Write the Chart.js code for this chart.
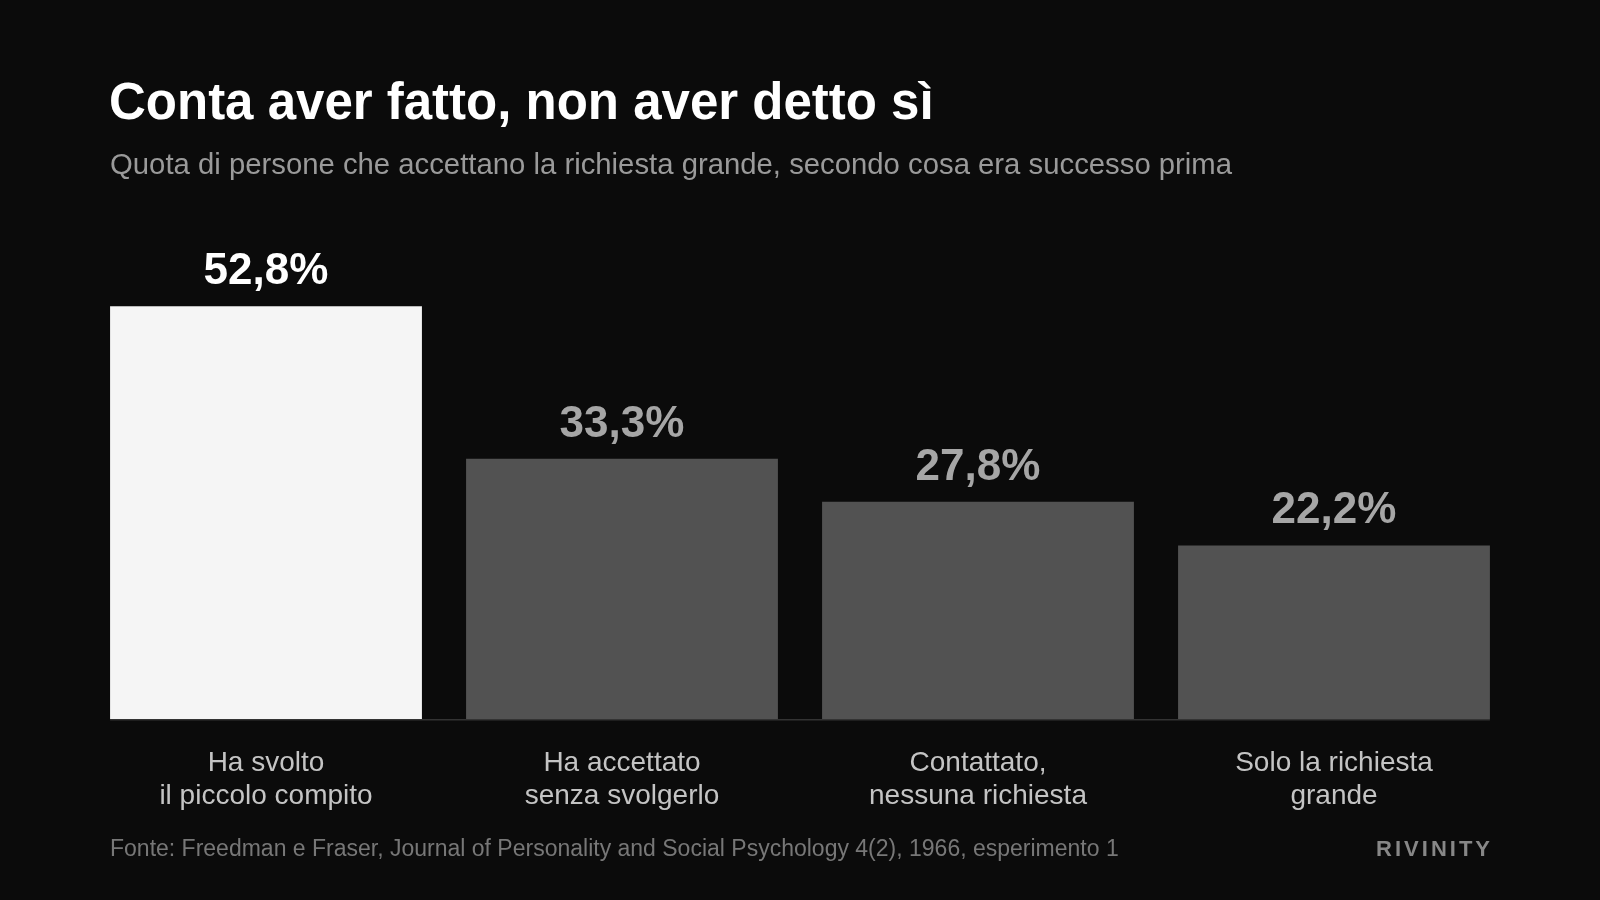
<!DOCTYPE html>
<html lang="it">
<head>
<meta charset="utf-8">
<title>Conta aver fatto, non aver detto sì</title>
<script src="https://cdn.jsdelivr.net/npm/chart.js@4.4.1/dist/chart.umd.min.js"></script>
<style>
  html, body { margin: 0; padding: 0; background: #0b0b0b; }
  body { width: 1600px; height: 900px; position: relative; overflow: hidden;
         font-family: "Liberation Sans", Arial, sans-serif; }
  .chart-wrap { position: absolute; left: 0; top: 0; width: 1600px; height: 900px; }
  .title { position: absolute; left: 109px; top: 76px; margin: 0;
           font-size: 51px; font-weight: 700; color: #ffffff; line-height: 1; white-space: nowrap; }
  .subtitle { position: absolute; left: 110px; top: 149px; margin: 0;
              font-size: 29.3px; color: #9a9a9a; line-height: 1; white-space: nowrap; }
  .source { position: absolute; left: 110px; top: 837px;
            font-size: 23px; color: #777777; line-height: 1; white-space: nowrap; }
  .brand { position: absolute; right: 107px; top: 838px;
           font-size: 22px; font-weight: 700; letter-spacing: 3px; color: #878787; line-height: 1; }
</style>
</head>
<body>
  <div class="chart-wrap"><canvas id="shareChart"></canvas></div>
  <h1 class="title">Conta aver fatto, non aver detto sì</h1>
  <p class="subtitle">Quota di persone che accettano la richiesta grande, secondo cosa era successo prima</p>
  <div class="source">Fonte: Freedman e Fraser, Journal of Personality and Social Psychology 4(2), 1966, esperimento 1</div>
  <div class="brand">RIVINITY</div>

<script>
// dati (percentuali)
const categories = [
  ['Ha svolto', 'il piccolo compito'],
  ['Ha accettato', 'senza svolgerlo'],
  ['Contattato,', 'nessuna richiesta'],
  ['Solo la richiesta', 'grande']
];
const shares = [52.8, 33.3, 27.8, 22.2];

const barColors = ['#f5f5f5', '#525252', '#525252', '#525252'];
const labelColors = ['#ffffff', '#a6a6a6', '#a6a6a6', '#a6a6a6'];

const fmt = v => v.toFixed(1).replace('.', ',') + '%';

// etichette sopra le barre + linea di base
const barExtras = {
  id: 'barExtras',
  afterDatasetsDraw(chart) {
    const c = chart.ctx;
    const bars = chart.getDatasetMeta(0).data;
    const base = chart.scales.y.getPixelForValue(0);
    const first = bars[0], last = bars[bars.length - 1];

    c.save();
    c.strokeStyle = '#333333';
    c.lineWidth = 1.5;
    c.beginPath();
    c.moveTo(first.x - first.width / 2, base + 0.75);
    c.lineTo(last.x + last.width / 2, base + 0.75);
    c.stroke();

    c.font = '700 44px "Liberation Sans", Arial, sans-serif';
    c.textAlign = 'center';
    c.textBaseline = 'alphabetic';
    bars.forEach((bar, i) => {
      c.fillStyle = labelColors[i];
      c.fillText(fmt(shares[i]), bar.x, bar.y - 22);
    });
    c.restore();
  }
};

const ctx = document.getElementById('shareChart').getContext('2d');
const shareChart = new Chart(ctx, {
  type: 'bar',
  data: {
    labels: categories,
    datasets: [{
      data: shares,
      backgroundColor: barColors,
      borderWidth: 0,
      categoryPercentage: 1,
      barPercentage: 0.876
    }]
  },
  options: {
    responsive: true,
    maintainAspectRatio: false,
    devicePixelRatio: 1,
    animation: false,
    layout: { padding: { left: 88, right: 88, top: 250, bottom: 71 } },
    plugins: {
      legend: { display: false },
      tooltip: { enabled: false }
    },
    scales: {
      x: {
        grid: { display: false },
        border: { display: false },
        ticks: {
          color: '#c4c4c4',
          padding: 19,
          maxRotation: 0,
          font: { family: '"Liberation Sans", Arial, sans-serif', size: 28, lineHeight: 1.2 }
        },
        afterFit(scale) { scale.height = 110; }
      },
      y: {
        display: false,
        min: 0,
        max: 60
      }
    }
  },
  plugins: [barExtras]
});
</script>
</body>
</html>
